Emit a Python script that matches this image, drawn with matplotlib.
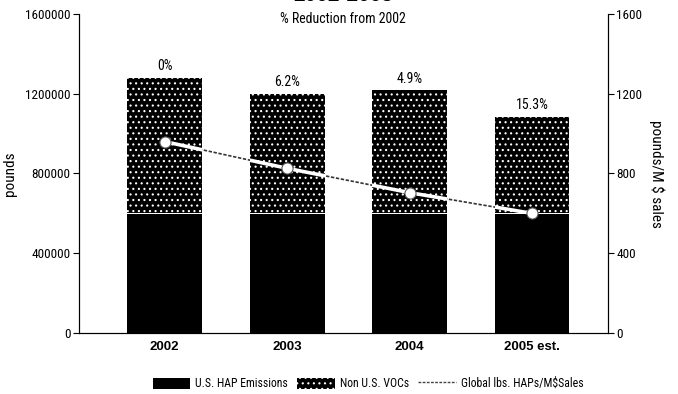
import matplotlib
matplotlib.use("Agg")
import matplotlib.pyplot as plt
from matplotlib.lines import Line2D
import numpy as np

plt.rcParams['font.family'] = ['Roboto Condensed', 'DejaVu Sans']
plt.rcParams['hatch.linewidth'] = 0.8

years = ["2002", "2003", "2004", "2005 est."]
us_hap = [600000, 600000, 600000, 600000]
non_us_voc = [680000, 600000, 617000, 484000]
lbs_per_msales = [960, 826, 704, 600]
reduction_labels = ["0%", "6.2%", "4.9%", "15.3%"]

fig = plt.figure(figsize=(6.78, 3.94), dpi=100)
ax = fig.add_axes([0.1165, 0.1548, 0.7803, 0.8097])
ax2 = ax.twinx()

x = np.arange(len(years))
width = 0.61

b1 = ax.bar(x, us_hap, width, color='black', linewidth=0, zorder=2)
b2 = ax.bar(x, non_us_voc, width, bottom=us_hap, facecolor='black', edgecolor='white',
            hatch='...', linewidth=0, zorder=2)
# thin white seam between the two stacked segments
ax.bar(x, [8000] * len(x), width, bottom=np.array(us_hap) - 4000, color='white', linewidth=0, zorder=3)

totals = np.array(us_hap) + np.array(non_us_voc)
for xi, t, lab in zip(x, totals, reduction_labels):
    ax.text(xi, t + 22000, lab, ha='center', va='bottom', fontsize=10)

ax.set_xlim(-0.70, 3.62)
ax.set_ylim(0, 1600000)
ax.set_yticks([0, 400000, 800000, 1200000, 1600000])
ax.set_yticklabels(["0", "400000", "800000", "1200000", "1600000"], fontsize=9.5)
ax.set_xticks(x)
ax.set_xticklabels(years, fontsize=9.5, fontweight='bold', family=['Liberation Sans', 'DejaVu Sans'])
ax.tick_params(axis='x', length=0, pad=6)
ax.tick_params(axis='y', direction='out', length=4, pad=2)
ax.set_ylabel("pounds", fontsize=11, labelpad=6)
ax.spines['top'].set_visible(False)
ax2.spines['top'].set_visible(False)

# dark dashed line across the gaps, white line over the bars
ax2.plot(x, lbs_per_msales, color='#333333', linestyle=(0, (2, 1)), linewidth=1.2, zorder=4)
for bar in b2.patches + b1.patches:
    ln, = ax2.plot(x, lbs_per_msales, color='white', linewidth=2.6, zorder=5)
    ln.set_clip_path(bar.get_path(), bar.get_transform())
ax2.plot(x, lbs_per_msales, linestyle='none', marker='o', markersize=8,
         markerfacecolor='white', markeredgecolor='#555555', markeredgewidth=0.8, zorder=6)
ax2.set_ylim(0, 1600)
ax2.set_yticks([0, 400, 800, 1200, 1600])
ax2.tick_params(axis='y', direction='out', length=4, pad=2, labelsize=9.5)
ax2.set_ylabel("pounds/M $ sales", fontsize=11, rotation=270, labelpad=16)

fig.text(0.506, 0.953, "% Reduction from 2002", ha='center', va='center', fontsize=10)
fig.text(0.506, 1.012, "2002-2005", ha='center', va='center', fontsize=15, fontweight='bold',
         family=['Liberation Sans', 'DejaVu Sans'])

line_handle = Line2D([], [], color='#444444', linestyle=(0, (2, 1)), linewidth=1.0)
fig.legend([b1, b2, line_handle],
           ["U.S. HAP Emissions", "Non U.S. VOCs", "Global lbs. HAPs/M$Sales"],
           loc='center', bbox_to_anchor=(0.543, 0.026), ncol=3, frameon=False,
           fontsize=8.5, handlelength=3.2, handleheight=1.1, columnspacing=0.8, handletextpad=0.4)

fig.savefig("out.png", dpi=100)
